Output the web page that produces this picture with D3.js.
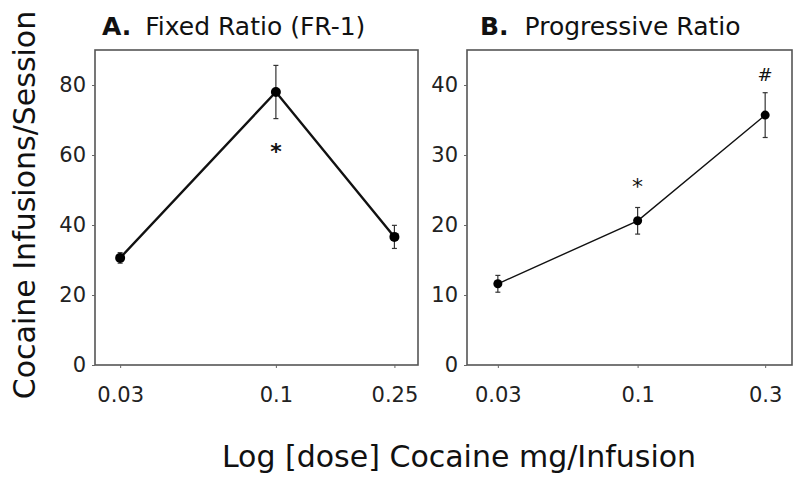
<!DOCTYPE html>
<html>
<head>
<meta charset="utf-8">
<script src="https://cdn.jsdelivr.net/npm/d3@7"></script>
<style>
  body { margin: 0; background: #fff; }
  svg { font-family: "DejaVu Sans", sans-serif; }
</style>
</head>
<body>
<div class="chartContainer"></div>
<script>
// panel A - fixed ratio
var dosesA = [0.03, 0.1, 0.25];
var meanA = [30.6, 78, 36.6];
var errA = [1.5, 7.6, 3.3];
var tickLabelsA = ['0.03', '0.1', '0.25'];
var yTicksA = [0, 20, 40, 60, 80];
var marksA = [{dose: 0.1, value: 61, sym: '*'}];

// panel B - progressive ratio
var dosesB = [0.03, 0.1, 0.3];
var meanB = [11.6, 20.6, 35.7];
var errB = [1.2, 1.9, 3.2];
var tickLabelsB = ['0.03', '0.1', '0.3'];
var yTicksB = [0, 10, 20, 30, 40];
var marksB = [{dose: 0.1, value: 25.5, sym: '*'}, {dose: 0.3, value: 41.5, sym: '#'}];

const width = 800;
const height = 482;
const font = '"DejaVu Sans", sans-serif';

const svg = d3.select('.chartContainer')
              .append('svg')
                .attr('width', width)
                .attr('height', height);

function panel(opt) {
    const xScale = d3.scaleLog()
                     .domain(opt.xDomain)
                     .range([opt.left, opt.right]);
    const yScale = d3.scaleLinear()
                     .domain(opt.yDomain)
                     .range([365, 50]);

    const g = svg.append('g');

    // frame
    g.append('rect')
        .attr('x', opt.left)
        .attr('y', 50)
        .attr('width', opt.right - opt.left)
        .attr('height', 315)
        .attr('fill', 'none')
        .attr('stroke', '#555')
        .attr('stroke-width', 1.6);

    // y axis
    const yAxis = g.append('g')
        .attr('transform', `translate(${opt.left}, 0)`)
        .call(d3.axisLeft(yScale).tickValues(opt.yTicks).tickSize(3).tickPadding(6));
    // x axis
    const xAxis = g.append('g')
        .attr('transform', `translate(0, 365)`)
        .call(d3.axisBottom(xScale).tickValues(opt.doses)
              .tickFormat((d, i) => opt.tickLabels[i]).tickSize(3).tickPadding(19));
    [yAxis, xAxis].forEach(a => {
        a.select('.domain').remove();
        a.selectAll('line').attr('stroke', '#666');
        a.selectAll('text')
            .attr('font-size', 21)
            .attr('font-family', font)
            .attr('fill', '#222');
    });

    // title
    const t = g.append('text')
        .attr('x', opt.titleX)
        .attr('y', 35)
        .attr('font-size', 25)
        .attr('fill', '#111');
    t.append('tspan').attr('font-weight', 'bold').text(opt.letter);
    t.append('tspan').attr('dx', opt.titleGap).text(opt.title);

    const pts = opt.doses.map((d, i) => ({dose: d, mean: opt.mean[i], err: opt.err[i]}));

    // line
    g.append('path')
        .datum(pts)
        .attr('fill', 'none')
        .attr('stroke', '#111')
        .attr('stroke-width', opt.lineWidth)
        .attr('d', d3.line().x(p => xScale(p.dose)).y(p => yScale(p.mean)));

    // error bars
    const eb = g.selectAll('.eb').data(pts).enter().append('g');
    eb.append('line')
        .attr('x1', p => xScale(p.dose)).attr('x2', p => xScale(p.dose))
        .attr('y1', p => yScale(p.mean - p.err)).attr('y2', p => yScale(p.mean + p.err))
        .attr('stroke', '#333').attr('stroke-width', 1.2);
    [-1, 1].forEach(s => {
        eb.append('line')
            .attr('x1', p => xScale(p.dose) - 2.5).attr('x2', p => xScale(p.dose) + 2.5)
            .attr('y1', p => yScale(p.mean + s * p.err)).attr('y2', p => yScale(p.mean + s * p.err))
            .attr('stroke', '#333').attr('stroke-width', 1.2);
    });

    // points
    g.selectAll('.pt').data(pts).enter().append('circle')
        .attr('cx', p => xScale(p.dose))
        .attr('cy', p => yScale(p.mean))
        .attr('r', opt.r)
        .attr('fill', '#000');

    // significance marks
    g.selectAll('.sig').data(opt.marks).enter().append('text')
        .attr('x', m => xScale(m.dose))
        .attr('y', m => yScale(m.value))
        .attr('dy', '0.35em')
        .attr('text-anchor', 'middle')
        .attr('font-size', m => m.sym === '*' ? 22 : 18)
        .attr('font-weight', m => m.sym === '*' && opt.boldMark ? 'bold' : 'normal')
        .attr('fill', '#111')
        .text(m => m.sym);
}

panel({left: 95, right: 418, xDomain: [0.0247, 0.30], yDomain: [0, 90],
       doses: dosesA, mean: meanA, err: errA, tickLabels: tickLabelsA, yTicks: yTicksA,
       marks: marksA, letter: 'A.', title: 'Fixed Ratio (FR-1)', titleX: 102, titleGap: 14,
       lineWidth: 2.4, r: 5, boldMark: true});
panel({left: 467, right: 792, xDomain: [0.023, 0.378], yDomain: [0, 45],
       doses: dosesB, mean: meanB, err: errB, tickLabels: tickLabelsB, yTicks: yTicksB,
       marks: marksB, letter: 'B.', title: 'Progressive Ratio', titleX: 480, titleGap: 16,
       lineWidth: 1.4, r: 4.5, boldMark: false});

// shared axis titles
svg.append('text')
    .attr('transform', 'translate(35, 205) rotate(-90)')
    .attr('text-anchor', 'middle')
    .attr('font-size', 30)
    .attr('fill', '#111')
    .text('Cocaine Infusions/Session');

svg.append('text')
    .attr('x', 459)
    .attr('y', 467)
    .attr('text-anchor', 'middle')
    .attr('font-size', 30)
    .attr('fill', '#111')
    .text('Log [dose] Cocaine mg/Infusion');
</script>
</body>
</html>
